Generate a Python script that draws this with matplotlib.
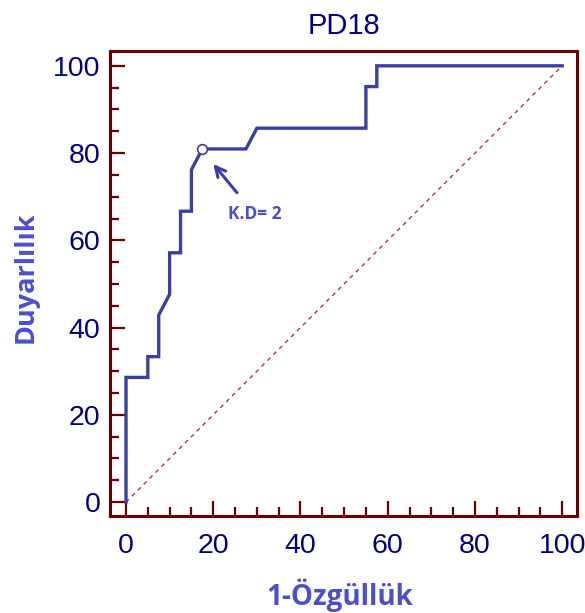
import matplotlib
matplotlib.use("Agg")
import matplotlib.pyplot as plt
from matplotlib.ticker import MultipleLocator

# data
fpr = [0, 0, 5, 5, 7.5, 7.5, 10, 10, 12.5, 12.5, 15, 15, 17.5, 27.5, 30, 55, 55, 57.5, 57.5, 100]
tpr = [0, 28.57, 28.57, 33.33, 33.33, 42.86, 47.62, 57.14, 57.14, 66.67, 66.67, 76.19,
       80.95, 80.95, 85.71, 85.71, 95.24, 95.24, 100, 100]
cut_x, cut_y = 17.5, 80.95
cut_label = "K.D= 2"
title = "PD18"
xlabel = "1-Özgüllük"
ylabel = "Duyarlılık"
ticks = [0, 20, 40, 60, 80, 100]

spine_c = "#6b0000"
curve_c = "#3a3fa3"
lab_c = "#4a50cc"
tick_c = "#000080"

fig = plt.figure(figsize=(5.85, 6.13), dpi=100)
ax = fig.add_axes([110/585, 1-516/613, 467/585, 465/613])

ax.plot([0, 100], [0, 100], linestyle=(0, (3, 3)), color="#a83a3a", lw=1.0)
ax.plot(fpr, tpr, color=curve_c, lw=2.4, solid_joinstyle="miter")
ax.plot([cut_x], [cut_y], marker="o", ms=7, mfc="white", mec=curve_c, mew=1.2, zorder=5)

ax.annotate(cut_label, xy=(20, 77.5), xytext=(29.5, 66), color=lab_c,
            fontsize=12.5, fontweight="bold", family=["Open Sans", "DejaVu Sans"],
            ha="center", va="center",
            arrowprops=dict(arrowstyle="->", color=curve_c, lw=2.2, mutation_scale=18,
                            shrinkA=9, shrinkB=0))

ax.set_xlim(-3.67, 103.4)
ax.set_ylim(-3.2, 103.4)
ax.set_xticks(ticks)
ax.set_yticks(ticks)
ax.xaxis.set_minor_locator(MultipleLocator(5))
ax.yaxis.set_minor_locator(MultipleLocator(5))
for s in ax.spines.values():
    s.set_color(spine_c)
    s.set_linewidth(2.2)
ax.tick_params(which="both", direction="in", color=spine_c, width=1.6,
               labelcolor=tick_c, labelsize=20.5)
ax.tick_params(which="major", length=11)
ax.tick_params(which="minor", length=6.5)
ax.tick_params(axis="x", which="both", pad=12, top=False)
ax.tick_params(axis="y", which="both", pad=7, right=False)
for lab in ax.get_xticklabels() + ax.get_yticklabels():
    lab.set_family(["Liberation Sans", "DejaVu Sans"])

ax.set_title(title, fontsize=21, color=tick_c, family=["Liberation Sans", "DejaVu Sans"], pad=12)
fig.text(340/585, 1-605/613, xlabel, ha="center", va="baseline", fontsize=20,
         fontweight="bold", color=lab_c, family=["Open Sans", "DejaVu Sans"])
fig.text(26/585, 1-277/613, ylabel, ha="center", va="center", rotation=90, fontsize=19.5,
         fontweight="bold", color=lab_c, family=["Open Sans", "DejaVu Sans"])

fig.savefig("out.png", dpi=100)
